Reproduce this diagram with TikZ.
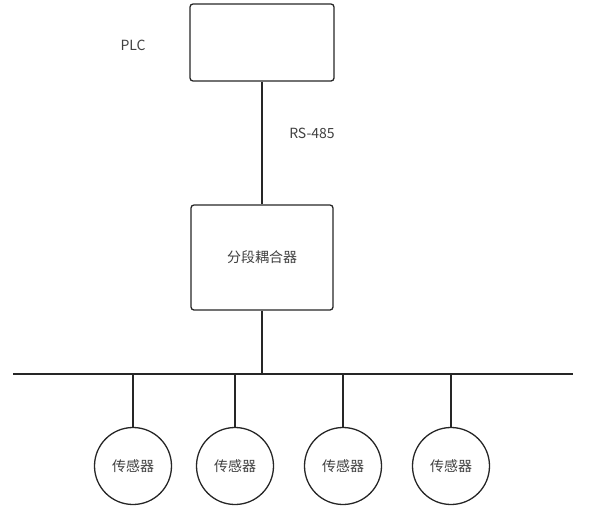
\documentclass[tikz,border=0pt]{standalone}
\usepackage{fontspec}
\setmainfont{Noto Sans CJK SC}
\usetikzlibrary{positioning}
\tikzset{
	>=latex,
	wire/.style={line width=1.3pt, draw=black!85},
	unit/.style={wire, rounded corners=3pt, inner sep=0pt},
	sensor/.style={wire, circle, minimum size=77pt, inner sep=0pt},
	label/.style={text=black!75, font=\fontsize{14}{16}\selectfont}
}

\begin{document}
\begin{tikzpicture}[x=1pt, y=-1pt]
			\useasboundingbox (0,0) rectangle (595,509);
			\node [unit, minimum width=144pt, minimum height=77pt] (plc) at (262,42.5) {};
			\node [label] (plclabel) at (133,45) {PLC};
			\node [unit, minimum width=142pt, minimum height=105pt, label] (coupler) at (262,257.5) {分段耦合器};
			\node [label] (rs) at (312,133) {RS-485};
			\draw [wire] (plc.south) -- (coupler.north);
			% bus
			\coordinate (busL) at (13,374);
			\coordinate (busR) at (573,374);
			\draw [wire] (busL) -- (busR);
			\draw [wire] (coupler.south) -- (coupler.south |- busL);
			\foreach \x [count=\i] in {133,235,343,451} {
				\node [sensor, label] (s\i) at (\x,466) {传感器};
				\draw [wire] (s\i.north) -- (s\i.north |- busL);
			}
		\end{tikzpicture}
\end{document}
